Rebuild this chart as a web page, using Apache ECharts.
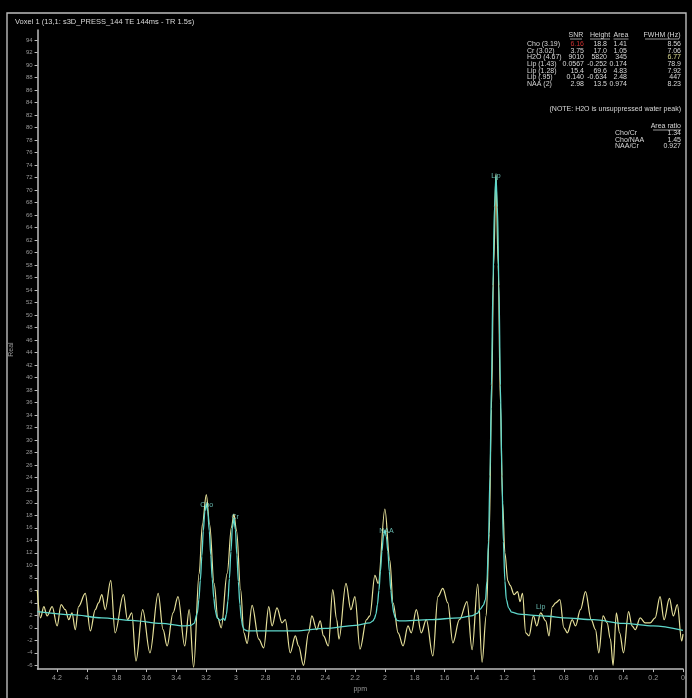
<!DOCTYPE html>
<html><head><meta charset="utf-8">
<script src="https://cdn.jsdelivr.net/npm/echarts@6/dist/echarts.min.js"></script>
<style>html,body{margin:0;padding:0;background:#000;}#c{width:692px;height:698px;}</style>
</head><body><div id="c"></div>
<script>
// ---------- data ----------
const titleText = 'Voxel 1 (13,1: s3D_PRESS_144 TE 144ms - TR 1.5s)';
const xTicks = [4.2,4,3.8,3.6,3.4,3.2,3,2.8,2.6,2.4,2.2,2,1.8,1.6,1.4,1.2,1,0.8,0.6,0.4,0.2,0];
const yTicks = [-6,-4,-2,0,2,4,6,8,10,12,14,16,18,20,22,24,26,28,30,32,34,36,38,40,42,44,46,48,50,52,54,56,58,60,62,64,66,68,70,72,74,76,78,80,82,84,86,88,90,92,94];

// measured spectrum (real part)
const realPpm = [4.332,4.310,4.288,4.266,4.232,4.199,4.172,4.144,4.121,4.099,4.077,4.055,4.010,3.976,3.943,3.921,3.899,3.876,3.839,3.810,3.754,3.727,3.698,3.670,3.625,3.576,3.521,3.488,3.461,3.421,3.388,3.343,3.313,3.283,3.246,3.224,3.198,3.176,3.146,3.120,3.098,3.058,3.029,3.013,2.995,2.968,2.946,2.924,2.891,2.846,2.813,2.779,2.757,2.724,2.690,2.668,2.635,2.601,2.579,2.546,2.512,2.490,2.457,2.434,2.412,2.379,2.350,2.323,2.308,2.261,2.228,2.201,2.167,2.123,2.101,2.067,2.045,2.000,1.967,1.945,1.911,1.878,1.845,1.823,1.789,1.756,1.722,1.678,1.644,1.611,1.578,1.544,1.500,1.449,1.415,1.377,1.348,1.320,1.300,1.285,1.270,1.255,1.240,1.225,1.210,1.195,1.175,1.160,1.133,1.110,1.093,1.077,1.055,1.033,1.004,0.981,0.955,0.921,0.899,0.877,0.854,0.826,0.799,0.776,0.743,0.721,0.688,0.654,0.616,0.587,0.565,0.536,0.509,0.487,0.469,0.447,0.425,0.399,0.365,0.342,0.320,0.287,0.254,0.220,0.187,0.154,0.127,0.091,0.065,0.038,0.009,0.000];
const realVal = [6.0,1.6,3.4,1.9,3.4,0.3,3.7,2.9,1.3,2.4,-0.3,3.4,5.5,-0.5,2.9,4.0,5.3,2.9,7.6,-0.8,5.3,1.3,2.4,-5.3,2.9,-4.0,5.5,-0.3,-2.9,2.4,5.0,-2.9,2.9,-6.3,8.7,16.6,21.3,16.6,7.1,1.5,0.0,8.7,16.1,18.2,15.5,6.1,-0.8,-2.5,3.6,-1.8,-3.2,3.4,0.3,3.2,0.8,1.3,-4.0,-1.3,-2.9,-6.0,-0.8,1.9,-0.3,1.1,-1.3,-2.9,6.1,1.3,-1.8,7.1,2.9,5.0,-3.4,1.3,1.9,8.4,7.1,19.0,10.8,4.0,-0.8,-2.9,0.3,-0.8,2.9,-0.8,1.3,-4.5,5.0,6.3,4.0,-2.4,1.3,4.2,-3.5,7.0,-5.5,2.0,15,35,58,72.5,58,36,20,12,7.5,6.8,5.3,5.8,4.2,5.5,-0.8,-1.3,1.9,0.3,2.4,1.1,-1.3,3.4,4.0,4.5,0.0,-0.8,1.3,0.3,2.9,5.8,1.3,-0.3,-4.0,1.9,0.8,-1.8,-6.0,2.4,-0.8,-4.0,2.6,0.3,-0.3,1.6,0.8,0.8,1.6,5.0,1.3,4.7,1.9,3.7,-2.1,-1.0];

// fitted spectrum
const fitPpm = [4.33,4.10,3.90,3.70,3.50,3.35,3.30,3.28,3.258,3.248,3.238,3.228,3.218,3.208,3.198,3.188,3.178,3.168,3.158,3.148,3.138,3.125,3.105,3.085,3.073,3.063,3.053,3.043,3.033,3.023,3.013,3.003,2.993,2.983,2.973,2.963,2.953,2.943,2.92,2.80,2.60,2.40,2.20,2.10,2.08,2.07,2.06,2.05,2.04,2.03,2.02,2.01,2.00,1.99,1.98,1.97,1.96,1.95,1.94,1.93,1.92,1.90,1.70,1.50,1.42,1.38,1.36,1.34,1.325,1.315,1.305,1.295,1.285,1.275,1.265,1.255,1.245,1.235,1.225,1.215,1.205,1.195,1.185,1.17,1.15,1.10,1.00,0.90,0.80,0.60,0.40,0.20,0.00];
const fitVal = [2.6,2.1,1.6,1.2,0.7,0.3,0.4,0.7,2.4,4.5,7.6,11.5,15.5,18.6,19.8,18.6,15.5,11.6,7.8,4.8,2.8,1.6,1.2,1.5,1.2,2.2,4.3,7.9,12.2,16.0,17.5,15.7,11.7,7.4,3.8,1.4,0.2,-0.3,-0.5,-0.5,-0.5,-0.1,0.4,0.8,1.1,1.5,2.2,3.7,6.0,9.0,12.2,14.6,15.6,14.6,12.2,9.0,6.0,3.8,2.3,1.6,1.2,1.1,1.3,1.6,1.9,2.3,3.0,3.6,4.5,7.5,13.8,24.3,38.8,54.7,67.3,72.2,67.3,54.7,38.8,24.3,13.8,7.5,4.5,3.2,2.5,2.2,2.0,1.85,1.6,1.3,0.7,0.3,-0.4];

// peak labels
const peakNames = ['Cho','Cr','NAA','Lip','Lip'];
const peakPpm = [3.195,3.004,1.99,1.255,0.955];
const peakVal = [19.6,17.7,15.5,72.2,3.3];

// quantification table
const tableHeaders = ['SNR','Height','Area','FWHM (Hz)'];
const rowNames = ['Cho (3.19)','Cr (3.02)','H2O (4.67)','Lip (1.43)','Lip (1.28)','Lip (.95)','NAA (2)'];
const colSNR = ['6.16','3.75','9010','0.0567','15.4','0.140','2.98'];
const colHeight = ['18.8','17.0','5820','-0.252','69.6','-0.634','13.5'];
const colArea = ['1.41','1.05','345','0.174','4.83','2.48','0.974'];
const colFWHM = ['8.56','7.06','6.77','78.9','7.92','447','8.23'];
const noteText = '(NOTE: H2O is unsuppressed water peak)';
const ratioTitle = 'Area ratio';
const ratioNames = ['Cho/Cr','Cho/NAA','NAA/Cr'];
const ratioVals = ['1.34','1.45','0.927'];

// ---------- chart ----------
const chart = echarts.init(document.getElementById('c'), null, {renderer:'canvas'});
const FONT = 'Liberation Sans';
const TXT = '#d8d8d8';
const realData = realPpm.map((p,i)=>[p, realVal[i]]);
const fitData = fitPpm.map((p,i)=>[p, fitVal[i]]);
const labelData = peakPpm.map((p,i)=>({value:[p, peakVal[i]], name: peakNames[i]}));

const g = [];
g.push({type:'rect', shape:{x:7,y:13,width:679,height:700}, style:{fill:'none', stroke:'#bdbdbd', lineWidth:1.4}, silent:true});
g.push({type:'text', style:{text:titleText, x:15, y:22, fill:TXT, font:'7.5px '+FONT, align:'left', verticalAlign:'middle', textAlign:'left', textVerticalAlign:'middle'}});
function txt(t,x,y,align,color){
  g.push({type:'text', style:{text:t, x:x, y:y, fill:color||TXT, font:'7px '+FONT, align:align, verticalAlign:'middle', textAlign:align, textVerticalAlign:'middle'}});
}
const hdrX = [576,600,621,662];
const hdrW = [12,20,15,34];
tableHeaders.forEach((h,i)=>{
  txt(h, hdrX[i], 35, 'center');
  g.push({type:'line', shape:{x1:hdrX[i]-hdrW[i]/2, y1:39, x2:hdrX[i]+hdrW[i]/2, y2:39}, style:{stroke:TXT, lineWidth:0.7}});
});
rowNames.forEach((n,i)=>{
  const y = 44 + i*6.7;
  txt(n, 527, y, 'left');
  txt(colSNR[i], 584, y, 'right', i===0 ? '#c83030' : TXT);
  txt(colHeight[i], 607, y, 'right');
  txt(colArea[i], 627, y, 'right');
  txt(colFWHM[i], 681, y, 'right', i===2 ? '#d8d890' : TXT);
});
txt(noteText, 681, 109, 'right');
txt(ratioTitle, 681, 126, 'right');
g.push({type:'line', shape:{x1:653, y1:130, x2:681, y2:130}, style:{stroke:TXT, lineWidth:0.7}});
ratioNames.forEach((n,i)=>{
  const y = 133 + i*6.7;
  txt(n, 615, y, 'left');
  txt(ratioVals[i], 681, y, 'right');
});

chart.setOption({
  backgroundColor:'#000',
  animation:false,
  grid:{left:35, right:9, top:30, bottom:21, containLabel:false},
  xAxis:{
    type:'value', inverse:true, min:0, max:4.33,
    name:'ppm', nameLocation:'middle', nameGap:16,
    nameTextStyle:{color:'#9a9a9a', fontSize:7, fontFamily:FONT},
    axisLine:{show:true, onZero:false, lineStyle:{color:'#bdbdbd', width:1.5}},
    axisTick:{show:true, length:3, customValues:xTicks, lineStyle:{color:'#bdbdbd'}},
    axisLabel:{customValues:xTicks, color:'#9a9a9a', fontSize:7, fontFamily:FONT, margin:5},
    splitLine:{show:false}
  },
  yAxis:{
    type:'value', min:-6.6, max:95.6,
    name:'Real', nameLocation:'middle', nameGap:22, nameRotate:90,
    nameTextStyle:{color:'#9a9a9a', fontSize:7, fontFamily:FONT},
    axisLine:{show:true, onZero:false, lineStyle:{color:'#bdbdbd', width:1.5}},
    axisTick:{show:true, length:3, customValues:yTicks, lineStyle:{color:'#bdbdbd'}},
    axisLabel:{customValues:yTicks, color:'#9a9a9a', fontSize:6, fontFamily:FONT, margin:5},
    splitLine:{show:false}
  },
  series:[
    {name:'Real', type:'line', data:realData, showSymbol:false, smooth:0.35, smoothMonotone:'x',
     lineStyle:{color:'#e6e09a', width:1.2}, z:2},
    {name:'Fit', type:'line', data:fitData, showSymbol:false, smooth:0.3, smoothMonotone:'x',
     lineStyle:{color:'#5fd8cc', width:1.3}, z:3},
    {name:'Peaks', type:'scatter', data:labelData, symbolSize:0, z:4,
     label:{show:true, position:'inside', formatter:p=>p.name, color:'#7fe6da', fontSize:7, fontFamily:FONT}}
  ],
  graphic:g
});
</script></body></html>
